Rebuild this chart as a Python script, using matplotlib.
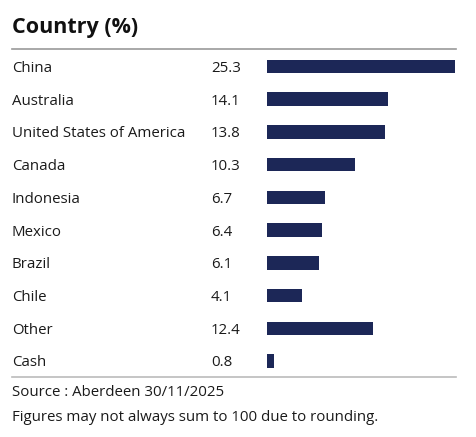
import matplotlib
matplotlib.use("Agg")
import matplotlib.pyplot as plt

countries = ["China", "Australia", "United States of America", "Canada", "Indonesia",
             "Mexico", "Brazil", "Chile", "Other", "Cash"]
values = [25.3, 14.1, 13.8, 10.3, 6.7, 6.4, 6.1, 4.1, 12.4, 0.8]
title = "Country (%)"
source = "Source : Aberdeen 30/11/2025"
note = "Figures may not always sum to 100 due to rounding."

W, H = 477, 437
plt.rcParams['font.family'] = ['Open Sans', 'DejaVu Sans']
fig = plt.figure(figsize=(W / 100, H / 100), dpi=100)

# full-figure axes in pixel coordinates for text and rules
base = fig.add_axes([0, 0, 1, 1])
base.set_xlim(0, W)
base.set_ylim(H, 0)
base.axis("off")

row0, step = 66.5, (361 - 66.5) / 9
navy = "#1c2757"
txt = "#1a1a1a"
fs = 10.8

base.text(12, 33.3, title, fontsize=15.5, fontweight="bold", va="baseline", ha="left", color="#111111")
base.plot([12, 456], [49.3, 49.3], color="#999999", lw=1.2)
base.plot([12, 456], [376.7, 376.7], color="#bbbbbb", lw=1.2)
for i, (c, v) in enumerate(zip(countries, values)):
    y = row0 + i * step + 5.4
    base.text(12, y, c, fontsize=fs, va="baseline", ha="left", color=txt)
    base.text(211, y, f"{v:.1f}", fontsize=fs, va="baseline", ha="left", color=txt)
base.text(12, 396, source, fontsize=fs, va="baseline", ha="left", color=txt)
base.text(12, 421, note, fontsize=fs, va="baseline", ha="left", color=txt)

# bar axes (largest bar is clipped at the right edge, as in the original)
x0, x1 = 267, 455
top = row0 - step / 2
bot = row0 + 9 * step + step / 2
bar = fig.add_axes([x0 / W, 1 - bot / H, (x1 - x0) / W, (bot - top) / H])
bar.barh(range(len(values)), values, height=13.5 / step, color=navy)
bar.set_xlim(0, 21.9)
bar.set_ylim(len(values) - 0.5, -0.5)
bar.axis("off")

fig.savefig("out.png", dpi=100)
